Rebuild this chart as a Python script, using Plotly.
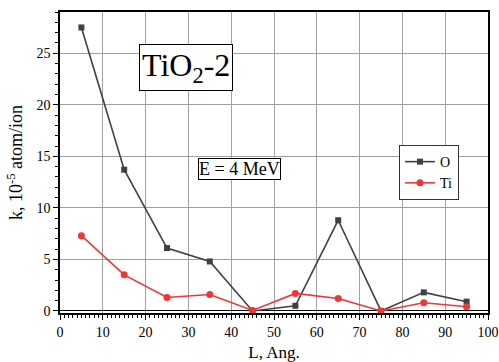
import plotly.graph_objects as go

L = [5, 15, 25, 35, 45, 55, 65, 75, 85, 95]
k_O = [27.5, 13.7, 6.1, 4.8, 0.0, 0.5, 8.8, 0.0, 1.8, 0.9]
k_Ti = [7.3, 3.5, 1.3, 1.6, 0.05, 1.7, 1.2, 0.0, 0.8, 0.4]

FONT = "Liberation Serif"

fig = go.Figure()
fig.add_trace(go.Scatter(x=L, y=k_O, name="O", mode="lines+markers",
                         line=dict(color="#404040", width=1.6),
                         marker=dict(symbol="square", size=6, color="#404040")))
fig.add_trace(go.Scatter(x=L, y=k_Ti, name="Ti", mode="lines+markers",
                         line=dict(color="#f03535", width=1.6),
                         marker=dict(symbol="circle", size=7, color="#f03535")))

fig.update_layout(
    width=499, height=362,
    margin=dict(l=60, r=11, t=12, b=49),
    paper_bgcolor="white", plot_bgcolor="white",
    font=dict(family=FONT, size=14, color="black"),
    showlegend=True,
    legend=dict(x=0.792, y=0.558, xanchor="left", yanchor="top",
                bgcolor="white", bordercolor="#333", borderwidth=1,
                font=dict(size=14, family=FONT), itemwidth=30, tracegroupgap=0),
    xaxis=dict(range=[0, 100], tick0=0, dtick=10, showgrid=True, automargin=False,
               gridcolor="#a0a0a0", gridwidth=1,
               showline=True, linecolor="black", linewidth=1.5, mirror=True,
               ticks="outside", ticklen=5, tickcolor="black",
               tickfont=dict(family=FONT, size=14),
               minor=dict(dtick=1, ticks="outside", ticklen=3, tickcolor="black", showgrid=False),
               zeroline=False,
               title=dict(text="L, Ang.", font=dict(size=17, family=FONT), standoff=8)),
    yaxis=dict(range=[-0.2, 29], tick0=0, dtick=5, showgrid=True, automargin=False,
               gridcolor="#a0a0a0", gridwidth=1,
               showline=True, linecolor="black", linewidth=1.5, mirror=True,
               ticks="outside", ticklen=5, tickcolor="black",
               tickfont=dict(family=FONT, size=14),
               minor=dict(dtick=1, ticks="outside", ticklen=3, tickcolor="black", showgrid=False),
               zeroline=True, zerolinecolor="black", zerolinewidth=1.2,
               title=dict(text="k, 10<sup>-5</sup> atom/ion", font=dict(size=18, family=FONT), standoff=9)),
    annotations=[
        dict(text="TiO<sub>2</sub>-2", x=0.185, y=0.895, xref="paper", yref="paper",
             xanchor="left", yanchor="top", showarrow=False,
             font=dict(size=32, family=FONT), bgcolor="white",
             bordercolor="black", borderwidth=1, borderpad=2),
        dict(text="E = 4 MeV", x=0.322, y=0.515, xref="paper", yref="paper",
             xanchor="left", yanchor="top", showarrow=False,
             font=dict(size=18, family=FONT), bgcolor="white",
             bordercolor="black", borderwidth=1, borderpad=0),
    ],
)

fig.write_html("out.html", config={"displayModeBar": False},
               post_script="document.body.style.margin='0';")
